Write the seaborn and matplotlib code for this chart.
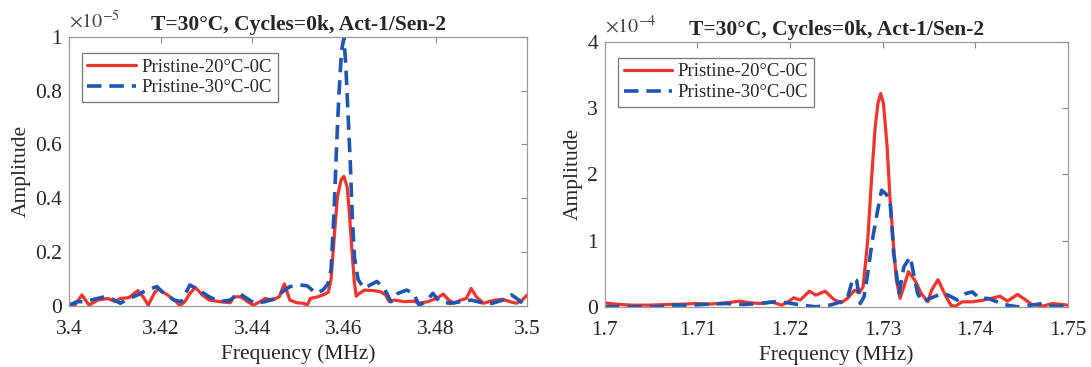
import numpy as np
import pandas as pd
import matplotlib
matplotlib.use("Agg")
import matplotlib.pyplot as plt
import seaborn as sns
from matplotlib.ticker import FuncFormatter

# Panel izquierdo (amplitud en unidades de 1e-5)
freq_a_red = [3.4000, 3.4013, 3.4028, 3.4044, 3.4063, 3.4085, 3.4101, 3.4112, 3.4131, 3.4150,
              3.4162, 3.4173, 3.4188, 3.4196, 3.4215, 3.4234, 3.4242, 3.4253, 3.4264, 3.4276,
              3.4291, 3.4306, 3.4329, 3.4352, 3.4360, 3.4375, 3.4390, 3.4402, 3.4417, 3.4428,
              3.4444, 3.4459, 3.4470, 3.4482, 3.4497, 3.4512, 3.4520, 3.4527, 3.4543, 3.4558,
              3.4566, 3.4572, 3.4580, 3.4586, 3.4594, 3.4600, 3.4607, 3.4612, 3.4617, 3.4623,
              3.4627, 3.4633, 3.4645, 3.4665, 3.4680, 3.4691, 3.4699, 3.4710, 3.4733, 3.4752,
              3.4764, 3.4783, 3.4802, 3.4817, 3.4829, 3.4840, 3.4855, 3.4867, 3.4878, 3.4889,
              3.4905, 3.4916, 3.4931, 3.4947, 3.4962, 3.4977, 3.4989, 3.5000]
amp_a_red = [0.009, 0.002, 0.040, 0.002, 0.021, 0.027, 0.015, 0.027, 0.030, 0.056,
             0.033, 0.002, 0.052, 0.061, 0.040, 0.015, 0.000, 0.015, 0.046, 0.068,
             0.040, 0.021, 0.015, 0.011, 0.033, 0.033, 0.015, 0.002, 0.015, 0.027,
             0.021, 0.033, 0.081, 0.021, 0.011, 0.009, 0.002, 0.027, 0.033, 0.043,
             0.050, 0.097, 0.280, 0.406, 0.468, 0.481, 0.443, 0.345, 0.220, 0.084,
             0.035, 0.045, 0.058, 0.056, 0.052, 0.040, 0.015, 0.021, 0.015, 0.017,
             0.009, 0.015, 0.027, 0.043, 0.021, 0.009, 0.021, 0.027, 0.064, 0.033,
             0.009, 0.015, 0.021, 0.024, 0.015, 0.009, 0.021, 0.040]

freq_a_blue = [3.4000, 3.4017, 3.4036, 3.4055, 3.4078, 3.4093, 3.4112, 3.4131, 3.4150, 3.4169,
               3.4192, 3.4207, 3.4230, 3.4245, 3.4264, 3.4284, 3.4306, 3.4329, 3.4352, 3.4371,
               3.4383, 3.4405, 3.4428, 3.4451, 3.4466, 3.4482, 3.4505, 3.4520, 3.4539, 3.4554,
               3.4565, 3.4572, 3.4578, 3.4584, 3.4589, 3.4595, 3.4600, 3.4604, 3.4609, 3.4614,
               3.4618, 3.4623, 3.4631, 3.4644, 3.4672, 3.4688, 3.4703, 3.4718, 3.4737, 3.4752,
               3.4764, 3.4779, 3.4794, 3.4809, 3.4832, 3.4855, 3.4878, 3.4901, 3.4924, 3.4947,
               3.4966, 3.4977, 3.4996]
amp_a_blue = [0.000, 0.015, 0.015, 0.024, 0.033, 0.027, 0.009, 0.027, 0.040, 0.058,
              0.071, 0.046, 0.021, 0.015, 0.077, 0.058, 0.033, 0.015, 0.021, 0.048,
              0.033, 0.009, 0.015, 0.027, 0.052, 0.071, 0.077, 0.074, 0.046, 0.058,
              0.080, 0.134, 0.330, 0.590, 0.780, 0.950, 0.995, 0.900, 0.716, 0.530,
              0.345, 0.180, 0.097, 0.065, 0.090, 0.064, 0.015, 0.046, 0.058, 0.046,
              0.002, 0.015, 0.046, 0.015, 0.009, 0.015, 0.021, 0.011, 0.009, 0.021,
              0.040, 0.027, 0.002]

# Panel derecho (amplitud en unidades de 1e-4)
freq_b_red = [1.7000, 1.7011, 1.7029, 1.7048, 1.7067, 1.7086, 1.7097, 1.7112, 1.7131, 1.7146,
              1.7157, 1.7168, 1.7180, 1.7191, 1.7198, 1.7204, 1.7211, 1.7221, 1.7228, 1.7238,
              1.7247, 1.7255, 1.7262, 1.7270, 1.7275, 1.7279, 1.7284, 1.7288, 1.7292, 1.7295,
              1.7298, 1.7301, 1.7305, 1.7308, 1.7312, 1.7315, 1.7319, 1.7323, 1.7328, 1.7335,
              1.7342, 1.7349, 1.7353, 1.7360, 1.7367, 1.7374, 1.7379, 1.7386, 1.7397, 1.7409,
              1.7420, 1.7427, 1.7435, 1.7446, 1.7454, 1.7461, 1.7473, 1.7484, 1.7500]
amp_b_red = [0.060, 0.040, 0.025, 0.025, 0.035, 0.040, 0.050, 0.040, 0.060, 0.086,
             0.060, 0.050, 0.075, 0.025, 0.075, 0.136, 0.101, 0.236, 0.176, 0.236,
             0.116, 0.060, 0.126, 0.252, 0.211, 0.302, 1.000, 1.900, 2.700, 3.069,
             3.220, 3.070, 2.415, 1.660, 0.906, 0.400, 0.127, 0.300, 0.530, 0.400,
             0.200, 0.075, 0.250, 0.410, 0.200, 0.020, 0.010, 0.075, 0.075, 0.101,
             0.136, 0.161, 0.086, 0.186, 0.111, 0.040, 0.010, 0.050, 0.025]

freq_b_blue = [1.7000, 1.7018, 1.7037, 1.7056, 1.7074, 1.7093, 1.7112, 1.7131, 1.7150, 1.7168,
               1.7183, 1.7198, 1.7213, 1.7228, 1.7243, 1.7255, 1.7262, 1.7268, 1.7272, 1.7276,
               1.7280, 1.7284, 1.7289, 1.7294, 1.7299, 1.7304, 1.7308, 1.7310, 1.7312, 1.7316,
               1.7318, 1.7323, 1.7330, 1.7335, 1.7338, 1.7343, 1.7352, 1.7364, 1.7371, 1.7381,
               1.7390, 1.7397, 1.7405, 1.7414, 1.7424, 1.7435, 1.7446, 1.7461, 1.7473, 1.7488,
               1.7500]
amp_b_blue = [0.000, 0.000, 0.000, 0.000, 0.025, 0.025, 0.040, 0.050, 0.035, 0.050,
              0.075, 0.060, 0.025, 0.000, 0.025, 0.075, 0.126, 0.430, 0.400, 0.050,
              0.150, 0.500, 1.006, 1.400, 1.760, 1.700, 1.610, 1.260, 0.810, 0.400,
              0.200, 0.600, 0.755, 0.400, 0.200, 0.075, 0.130, 0.201, 0.176, 0.101,
              0.201, 0.226, 0.126, 0.126, 0.075, 0.025, 0.000, 0.025, 0.050, 0.000,
              0.040]

labels = ["Pristine-20°C-0C", "Pristine-30°C-0C"]
title = "T=30°C, Cycles=0k, Act-1/Sen-2"

sns.set_theme(style="white")
plt.rcParams['font.family'] = ['Liberation Serif', 'DejaVu Serif']
plt.rcParams['mathtext.fontset'] = 'stix'

red = "#f2332b"
blue = "#1d55b3"

fig = plt.figure(figsize=(10.91, 3.67), dpi=100)
ax1 = fig.add_axes([0.0632, 0.167, 0.420, 0.733])
ax2 = fig.add_axes([0.5545, 0.164, 0.424, 0.722])

panels = [
    (ax1, freq_a_red, amp_a_red, freq_a_blue, amp_a_blue, (3.4, 3.5), np.arange(3.4, 3.501, 0.02),
     (0, 1), [0, 0.2, 0.4, 0.6, 0.8, 1], r"$\times10^{-5}$"),
    (ax2, freq_b_red, amp_b_red, freq_b_blue, amp_b_blue, (1.7, 1.75), np.arange(1.7, 1.7501, 0.01),
     (0, 4), [0, 1, 2, 3, 4], r"$\times10^{-4}$"),
]

for ax, fr, ar, fb, ab, xlim, xt, ylim, yt, off in panels:
    sns.lineplot(x=fr, y=ar, ax=ax, color=red, lw=2.3, sort=False, label=labels[0])
    sns.lineplot(x=fb, y=ab, ax=ax, color=blue, lw=2.6, sort=False, label=labels[1],
                 linestyle=(0, (4, 2.2)))
    ax.set_xlim(*xlim)
    ax.set_ylim(*ylim)
    ax.set_xticks(xt)
    ax.set_yticks(yt)
    ax.xaxis.set_major_formatter(FuncFormatter(lambda v, p: "%g" % round(v, 4)))
    ax.yaxis.set_major_formatter(FuncFormatter(lambda v, p: "%g" % round(v, 4)))
    ax.tick_params(direction="in", top=True, right=True, length=4, width=0.8,
                   color="#888888", labelsize=15.5, labelcolor="#262626")
    ax.tick_params(axis="x", pad=10)
    ax.tick_params(axis="y", pad=5)
    for s in ax.spines.values():
        s.set_color("#999999")
        s.set_linewidth(0.9)
    ax.set_xlabel("Frequency (MHz)", fontsize=15.5, color="#262626", labelpad=4)
    ax.set_ylabel("Amplitude", fontsize=15.5, color="#262626", labelpad=3)
    ax.set_title(title, fontsize=15.5, fontweight="bold", pad=5)
    ax.text(0.0, 1.015, off, transform=ax.transAxes, fontsize=14.5, color="#444444",
            ha="left", va="bottom")
    leg = ax.legend(loc="upper left", bbox_to_anchor=(0.028, 0.94), fontsize=13.5,
                    frameon=True, fancybox=False, edgecolor="#555555", handlelength=2.6,
                    handletextpad=0.3, borderpad=0.3, labelspacing=0.2, borderaxespad=0)
    leg.get_frame().set_linewidth(0.9)

fig.savefig("out.png", dpi=100)
